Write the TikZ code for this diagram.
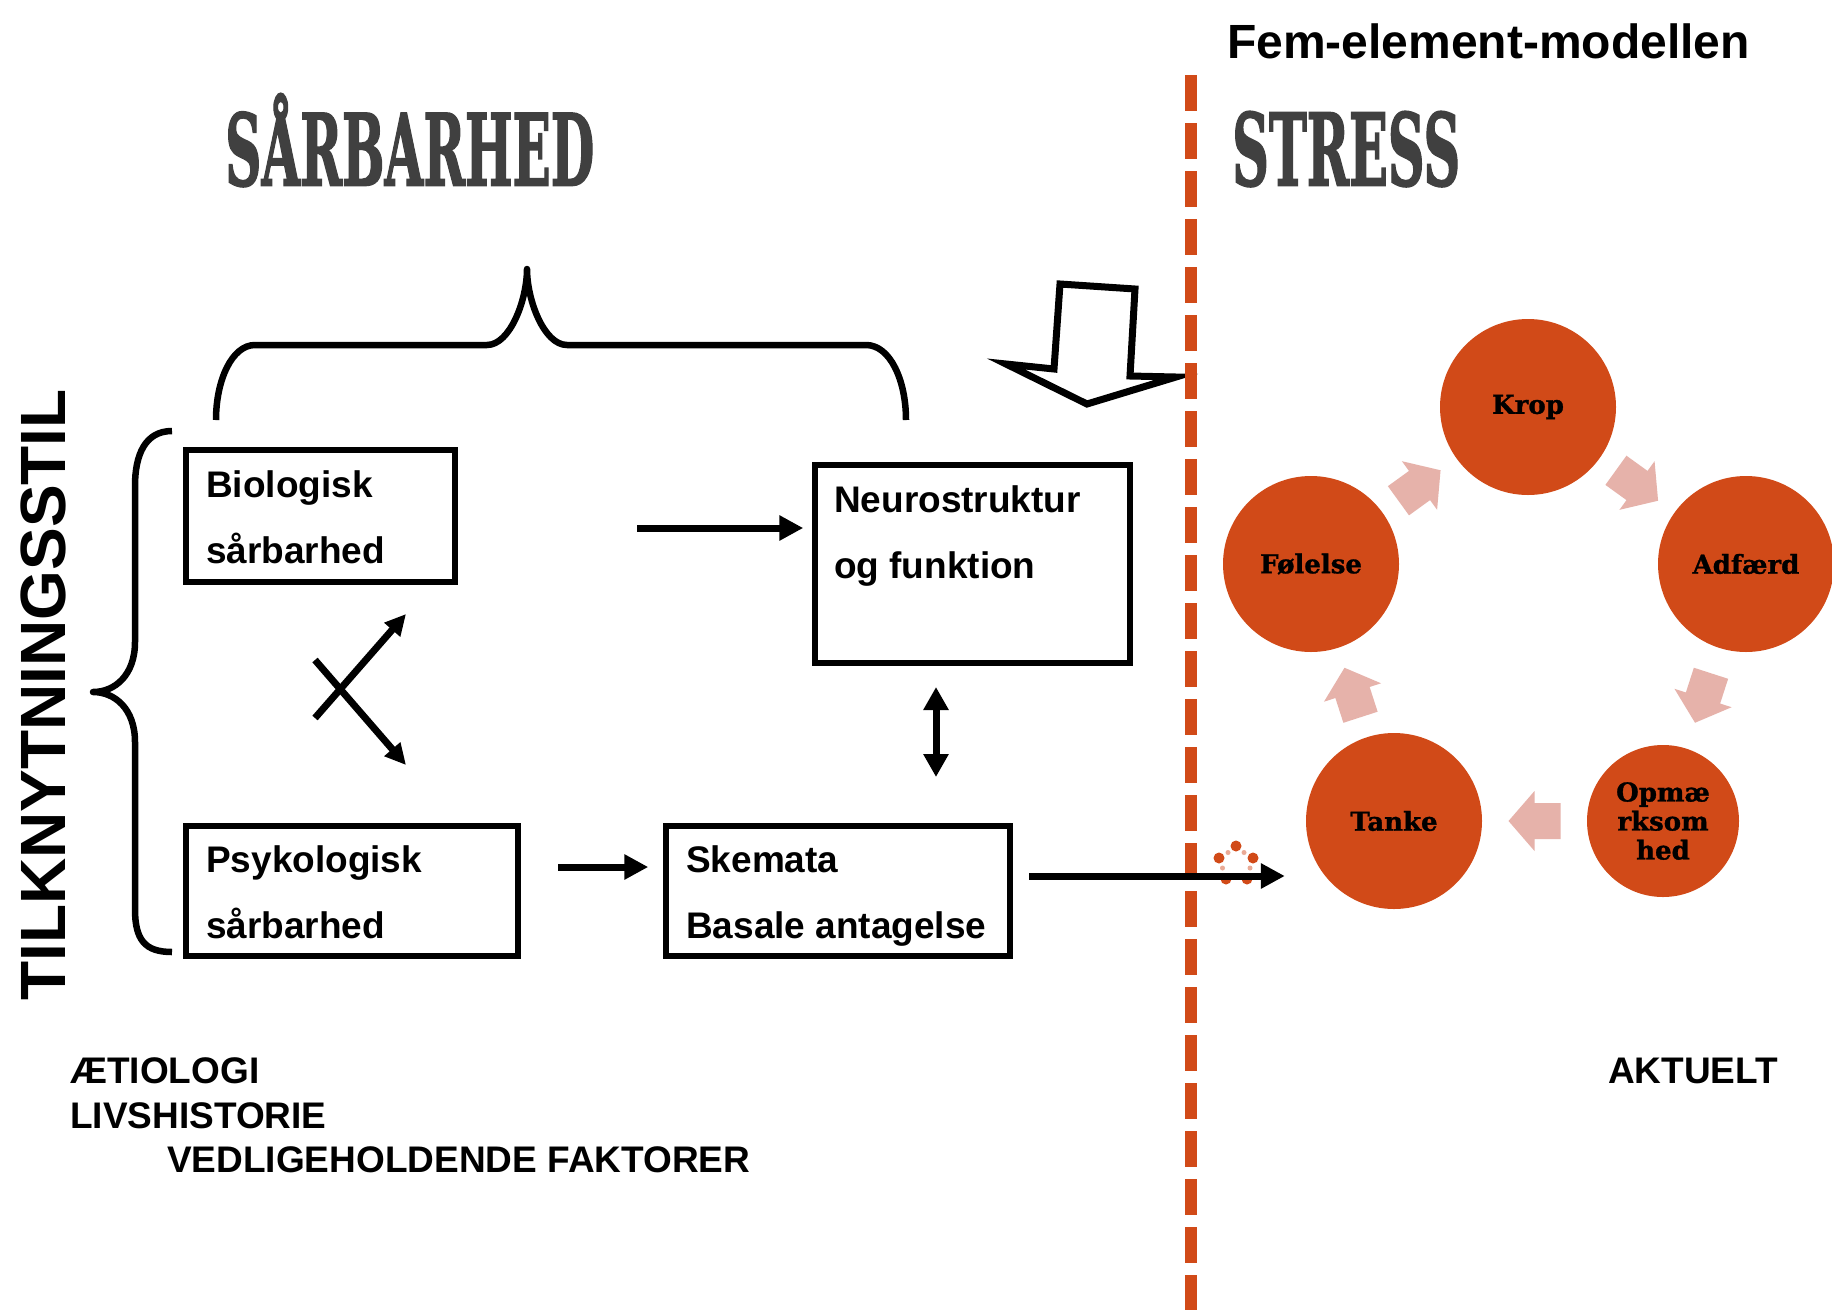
\documentclass[tikz,border=0pt]{standalone}
\usepackage{fontspec}
\setmainfont{Liberation Sans}
\newfontfamily\sarbfont{DejaVu Serif}[FakeBold=2]
\newfontfamily\circfont{DejaVu Serif}[FakeBold=1.2]
\usetikzlibrary{arrows.meta}
\definecolor{orng}{RGB}{209,74,24}
\definecolor{pinkc}{RGB}{230,178,170}
\definecolor{titlegray}{RGB}{64,64,64}
\definecolor{dotlight}{RGB}{234,170,150}
\tikzset{
  box/.style={draw=black,line width=5.5pt,inner sep=0pt},
  txt/.style={font=\fontsize{37}{44}\selectfont\bfseries,inner sep=0pt,anchor=base west},
  arr/.style={line width=7pt,-{Triangle[length=24pt,width=24pt]}},
  xarr/.style={line width=7pt,-{Triangle[length=21pt,width=20pt]}},
  brace/.style={line width=6.5pt,line join=round},
  circ/.style={circle,fill=orng,inner sep=0pt,minimum size=176pt,font=\circfont\bfseries\fontsize{26}{29}\selectfont,align=center},
  pinkarrow/.pic={\fill[pinkc] (-26,-18) -- (0,-18) -- (0,-30) -- (26,0) -- (0,30) -- (0,18) -- (-26,18) -- cycle;}
}
\begin{document}
\begin{tikzpicture}[x=1pt,y=-1pt]
\useasboundingbox (0,0) rectangle (1832,1310);
\fill[white] (0,0) rectangle (1832,1310);

% titles
\node[font=\fontsize{48}{56}\selectfont\bfseries, anchor=base west, inner sep=0pt] (fem) at (1227,58) {Fem-element-modellen};
\node[anchor=south west, inner sep=0pt, text=titlegray] (sarb) at (225,187) {\resizebox{369pt}{92pt}{\sarbfont\bfseries SÅRBARHED}};
\node[anchor=south west, inner sep=0pt, text=titlegray] (stress) at (1232,187) {\resizebox{228pt}{74pt}{\sarbfont\bfseries STRESS}};
\node[rotate=90, font=\fontsize{64}{70}\selectfont\bfseries, inner sep=0pt] (tilk) at (43,695) {TILKNYTNINGSSTIL};

% top brace
\draw[brace] (216,420) .. controls (216,380) and (232,345) .. (255,345) -- (487,345)
  .. controls (510,345) and (527,300) .. (527,269)
  .. controls (527,300) and (544,345) .. (567,345) -- (866,345)
  .. controls (890,345) and (906,380) .. (906,420);
% left brace
\draw[brace] (172,431) .. controls (145,431) and (135,455) .. (135,486) -- (135,642)
  .. controls (135,675) and (115,692) .. (93,692)
  .. controls (115,692) and (135,709) .. (135,742) -- (135,909)
  .. controls (135,940) and (145,952) .. (172,952);

% boxes
\node[box, minimum width=269pt, minimum height=132pt] (bio) at (320.5,516) {};
\node[box, minimum width=315pt, minimum height=198pt] (neuro) at (972.5,564) {};
\node[box, minimum width=332pt, minimum height=130pt] (psyk) at (352,891) {};
\node[box, minimum width=344pt, minimum height=130pt] (skem) at (838,891) {};

\node[txt] (t1) at (206,497) {Biologisk};
\node[txt] (t2) at (206,563) {sårbarhed};
\node[txt] (t3) at (834,512) {Neurostruktur};
\node[txt] (t4) at (834,578) {og funktion};
\node[txt] (t5) at (206,872) {Psykologisk};
\node[txt] (t6) at (206,938) {sårbarhed};
\node[txt] (t7) at (686,872) {Skemata};
\node[txt] (t8) at (686,938) {Basale antagelse};

% bottom texts
\node[txt] (b1) at (70,1083) {ÆTIOLOGI};
\node[txt] (b2) at (70,1128) {LIVSHISTORIE};
\node[txt] (b3) at (167,1172) {VEDLIGEHOLDENDE FAKTORER};
\node[txt] (b4) at (1608,1083) {AKTUELT};

% tilted block arrow
\draw[line width=7pt, fill=white, line join=miter] (1060,284) -- (1135,289) -- (1130,376) -- (1176,377) -- (1087,404) -- (1006,364) -- (1054,369) -- cycle;

% dashed divider
\coordinate (dtop) at (1191,75);
\coordinate (dbot) at (1191,1310);
\draw[orng, line width=12pt, dash pattern=on 36pt off 12pt] (dtop) -- (dbot);

% circles
\node[circ] (krop) at (1528,407) {Krop};
\node[circ] (adf) at (1746,564) {Adfærd};
\node[circ] (fol) at (1311,564) {Følelse};
\node[circ] (tanke) at (1394,821) {Tanke};
\node[circ, minimum size=152pt] (opm) at (1663,821) {Opmæ\\rksom\\hed};

\pic[rotate=35.9] (pa1) at (1419.5,485.5) {pinkarrow};
\pic[rotate=-35.8] (pa2) at (1637,485.5) {pinkarrow};
\pic[rotate=-107.9] (pa3) at (1703,698) {pinkarrow};
\pic[rotate=180] (pa4) at (1534.5,821) {pinkarrow};
\pic[rotate=107.9] (pa5) at (1352.5,692.5) {pinkarrow};

% spinner dots
\foreach \p in {(1236,846),(1219,858),(1253,858),(1226,879),(1247,879)} \fill[orng] \p circle[radius=5.5pt];
\foreach \p in {(1228,852.5),(1244,852.5),(1222.5,868),(1250,868)} \fill[dotlight] \p circle[radius=2.5pt];

% arrows
\coordinate (a1) at (637,528);
\draw[arr, shorten >=9pt] (a1) -- (neuro.west |- a1);
\coordinate (a2) at (558,867);
\draw[arr, shorten >=15pt] (a2) -- (skem.west |- a2);
\coordinate (a3) at (1029,876);
\draw[arr, shorten >=21pt] (a3) -- (tanke.west |- a3);
\coordinate (d1) at (936,687);
\coordinate (d2) at (936,777);
\draw[line width=7pt, {Triangle[length=23pt,width=24pt]}-{Triangle[length=23pt,width=24pt]}] (d1) -- (d2);
\coordinate (x1s) at (315,660);
\coordinate (x1e) at (406,765);
\coordinate (x2s) at (315,718);
\coordinate (x2e) at (406,614);
\draw[xarr] (x1s) -- (x1e);
\draw[xarr] (x2s) -- (x2e);
\end{tikzpicture}
\end{document}
